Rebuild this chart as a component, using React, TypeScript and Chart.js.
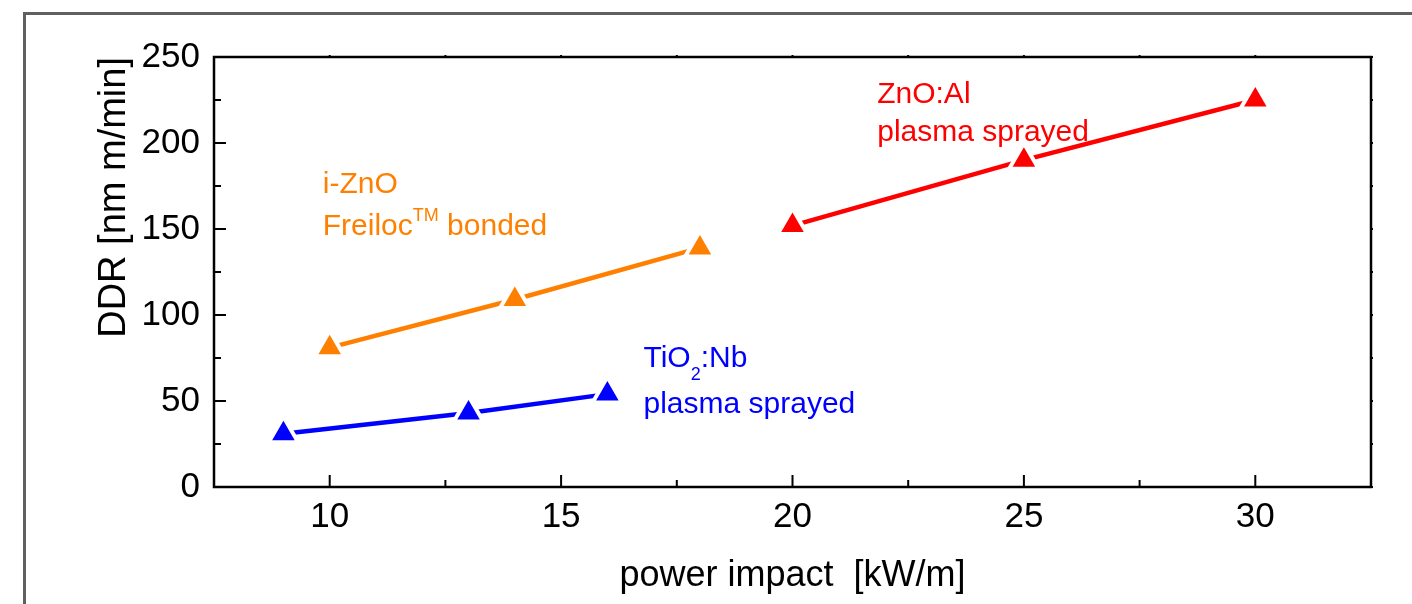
import React, { useEffect, useRef } from "react";
import { Chart, registerables } from "chart.js";

Chart.register(...registerables);

// ---- data ----
const X_TICKS = [10, 15, 20, 25, 30];
const X_MINOR = [12.5, 17.5, 22.5, 27.5];
const Y_TICKS = [0, 50, 100, 150, 200, 250];
const Y_MINOR = [25, 75, 125, 175, 225];

const TIO2_X = [9, 13, 16];
const TIO2_Y = [31, 43, 54];
const IZNO_X = [10, 14, 18];
const IZNO_Y = [81, 109, 139];
const ZNOAL_X = [20, 25, 30];
const ZNOAL_Y = [152, 190, 225];

const X_TITLE = "power impact  [kW/m]";
const Y_TITLE = "DDR [nm m/min]";

type Seg = { t: string; sup?: boolean; sub?: boolean };
const LABEL_ZNOAL: Seg[][] = [[{ t: "ZnO:Al" }], [{ t: "plasma sprayed" }]];
const LABEL_IZNO: Seg[][] = [
  [{ t: "i-ZnO" }],
  [{ t: "Freiloc" }, { t: "TM", sup: true }, { t: " bonded" }],
];
const LABEL_TIO2: Seg[][] = [
  [{ t: "TiO" }, { t: "2", sub: true }, { t: ":Nb" }],
  [{ t: "plasma sprayed" }],
];
// anchor (data units): left x, baseline y of each line
const ANCHOR_ZNOAL = { x: 21.83, y: [223.2, 201.1] };
const ANCHOR_IZNO = { x: 9.85, y: [170.8, 146.5] };
const ANCHOR_TIO2 = { x: 16.78, y: [69.9, 42.9] };

// ---- style ----
const FONT = '"Liberation Sans", Arial, Helvetica, sans-serif';
const RED = "#ff0000";
const ORANGE = "#ff8000";
const BLUE = "#0000ff";

function mkDataset(xs: number[], ys: number[], color: string) {
  return {
    data: xs.map((x, i) => ({ x, y: ys[i] })),
    showLine: true,
    borderColor: color,
    borderWidth: 4.5,
    borderCapStyle: "round" as const,
    pointStyle: "triangle" as const,
    pointRadius: 17,
    pointHoverRadius: 17,
    pointBackgroundColor: color,
    pointBorderColor: "#ffffff",
    pointBorderWidth: 4,
    pointHoverBorderWidth: 4,
    pointHitRadius: 0,
  };
}

const framePlugin = {
  id: "frame",
  afterDraw(chart: any) {
    const { ctx, chartArea: a, scales } = chart;
    const xs = scales.x;
    const ys = scales.y;
    ctx.save();
    // outer grey frame
    ctx.strokeStyle = "#606060";
    ctx.lineWidth = 3;
    ctx.beginPath();
    ctx.moveTo(24.5, chart.height + 5);
    ctx.lineTo(24.5, 13.5);
    ctx.lineTo(chart.width + 5, 13.5);
    ctx.stroke();
    // axis box
    ctx.strokeStyle = "#000";
    ctx.lineWidth = 2.5;
    ctx.strokeRect(a.left, a.top, a.right - a.left, a.bottom - a.top);
    ctx.lineWidth = 2;
    ctx.beginPath();
    const xt = (v: number, len: number) => {
      const p = xs.getPixelForValue(v);
      ctx.moveTo(p, a.bottom);
      ctx.lineTo(p, a.bottom - len);
      ctx.moveTo(p, a.top);
      ctx.lineTo(p, a.top - 2);
    };
    const yt = (v: number, len: number) => {
      const p = ys.getPixelForValue(v);
      ctx.moveTo(a.left, p);
      ctx.lineTo(a.left + len, p);
      ctx.moveTo(a.right, p);
      ctx.lineTo(a.right + 2, p);
    };
    X_TICKS.forEach((v) => xt(v, 12));
    X_MINOR.forEach((v) => xt(v, 7));
    Y_TICKS.forEach((v) => yt(v, 12));
    Y_MINOR.forEach((v) => yt(v, 7));
    ctx.stroke();
    ctx.restore();
  },
};

function drawRich(ctx: CanvasRenderingContext2D, segs: Seg[], x: number, y: number) {
  let cx = x;
  for (const s of segs) {
    const small = s.sup || s.sub;
    ctx.font = `${small ? 18 : 30}px ${FONT}`;
    const dy = s.sup ? -14 : s.sub ? 13 : 0;
    ctx.fillText(s.t, cx, y + dy);
    cx += ctx.measureText(s.t).width;
  }
}

const labelPlugin = {
  id: "labels",
  afterDatasetsDraw(chart: any) {
    const { ctx, scales } = chart;
    const items: [Seg[][], { x: number; y: number[] }, string][] = [
      [LABEL_ZNOAL, ANCHOR_ZNOAL, RED],
      [LABEL_IZNO, ANCHOR_IZNO, ORANGE],
      [LABEL_TIO2, ANCHOR_TIO2, BLUE],
    ];
    ctx.save();
    ctx.textAlign = "left";
    ctx.textBaseline = "alphabetic";
    for (const [lines, anc, color] of items) {
      ctx.fillStyle = color;
      const px = scales.x.getPixelForValue(anc.x);
      lines.forEach((segs, i) => {
        const py = scales.y.getPixelForValue(anc.y[i]);
        drawRich(ctx, segs, px, py);
      });
    }
    ctx.restore();
  },
};

export default function App() {
  const ref = useRef<HTMLCanvasElement | null>(null);
  useEffect(() => {
    if (!ref.current) return;
    const chart = new Chart(ref.current, {
      type: "scatter",
      data: {
        datasets: [
          mkDataset(TIO2_X, TIO2_Y, BLUE),
          mkDataset(IZNO_X, IZNO_Y, ORANGE),
          mkDataset(ZNOAL_X, ZNOAL_Y, RED),
        ] as any,
      },
      options: {
        animation: false,
        responsive: false,
        devicePixelRatio: 1,
        events: [],
        layout: { padding: { left: 0, right: 41, top: 57, bottom: 0 } },
        plugins: { legend: { display: false }, tooltip: { enabled: false } },
        scales: {
          x: {
            type: "linear",
            min: 7.5,
            max: 32.5,
            grid: { display: false, drawTicks: false },
            border: { display: false },
            afterBuildTicks: (s: any) => {
              s.ticks = X_TICKS.map((v) => ({ value: v }));
            },
            afterFit: (s: any) => {
              s.height = 117;
            },
            ticks: {
              font: { family: FONT, size: 35 },
              color: "#000",
              padding: 9.5,
              maxRotation: 0,
              autoSkip: false,
            },
            title: {
              display: true,
              text: X_TITLE,
              color: "#000",
              font: { family: FONT, size: 36 },
              padding: { top: 0, bottom: 6 },
            },
          },
          y: {
            type: "linear",
            min: 0,
            max: 250,
            grid: { display: false, drawTicks: false },
            border: { display: false },
            afterBuildTicks: (s: any) => {
              s.ticks = Y_TICKS.map((v) => ({ value: v }));
            },
            afterFit: (s: any) => {
              s.width = 214;
            },
            ticks: {
              font: { family: FONT, size: 35 },
              color: "#000",
              padding: 14,
              autoSkip: false,
            },
            title: {
              display: true,
              text: Y_TITLE,
              align: "end",
              color: "#000",
              font: { family: FONT, size: 38 },
              padding: { top: 92, bottom: 0 },
            },
          },
        },
      } as any,
      plugins: [framePlugin, labelPlugin],
    });
    return () => chart.destroy();
  }, []);
  return (
    <div
      style={{
        position: "fixed",
        left: 0,
        top: 0,
        width: 1412,
        height: 604,
        background: "#fff",
      }}
    >
      <canvas ref={ref} width={1412} height={604} style={{ display: "block" }} />
    </div>
  );
}
